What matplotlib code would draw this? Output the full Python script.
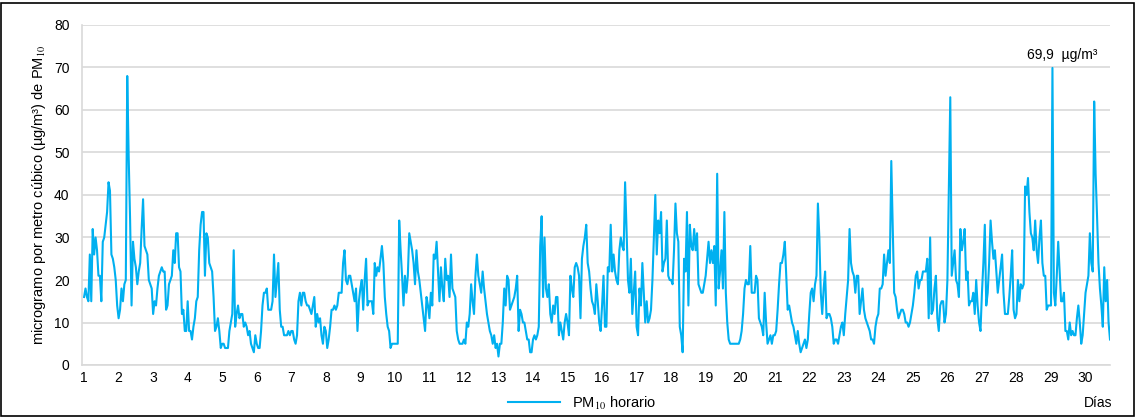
import numpy as np
import matplotlib
matplotlib.use("Agg")
import matplotlib.pyplot as plt
from matplotlib.patches import Rectangle

plt.rcParams['font.family'] = ['Liberation Sans', 'DejaVu Sans']
plt.rcParams['mathtext.fontset'] = 'stix'

# PM10 hourly concentration (ug/m3), one row per day
pm10_horario = [
    16, 18, 16, 15, 26, 15, 32, 26, 30, 27, 21, 21, 15, 29, 30, 33, 36, 43, 41, 26, 25, 23, 20, 14,
    11, 13, 18, 15, 19, 20, 68, 49, 34, 14, 29, 25, 23, 19, 22, 24, 32, 39, 28, 27, 26, 20, 19, 18,
    12, 15, 14, 18, 21, 22, 23, 22, 22, 13, 14, 19, 20, 21, 27, 24, 31, 31, 23, 22, 12, 13, 8, 8,
    15, 8, 8, 6, 9, 11, 15, 16, 27, 33, 36, 36, 21, 31, 30, 24, 23, 22, 16, 8, 9, 11, 8, 4,
    5, 5, 4, 4, 4, 8, 10, 12, 27, 9, 12, 14, 11, 12, 12, 9, 10, 9, 7, 8, 5, 4, 3, 7,
    5, 4, 4, 8, 14, 17, 17, 18, 13, 13, 13, 15, 26, 16, 20, 24, 13, 9, 9, 7, 7, 7, 8, 7,
    8, 8, 6, 5, 7, 15, 17, 14, 17, 17, 15, 14, 14, 13, 12, 14, 16, 9, 12, 10, 11, 7, 5, 9,
    8, 4, 6, 9, 13, 13, 14, 13, 14, 17, 17, 17, 24, 27, 20, 19, 21, 21, 19, 17, 15, 18, 8, 15,
    18, 20, 13, 20, 25, 14, 15, 15, 15, 12, 24, 21, 23, 22, 25, 28, 24, 16, 12, 9, 8, 4, 5, 5,
    5, 5, 5, 34, 27, 21, 14, 21, 17, 21, 31, 29, 27, 24, 19, 27, 22, 20, 17, 14, 11, 8, 16, 14,
    11, 17, 14, 26, 25, 29, 22, 15, 23, 18, 15, 25, 20, 21, 16, 26, 18, 17, 16, 8, 6, 5, 5, 5,
    6, 5, 10, 9, 12, 19, 15, 12, 21, 26, 21, 19, 17, 22, 18, 15, 12, 10, 8, 7, 5, 7, 4, 5,
    2, 5, 5, 10, 18, 14, 21, 20, 13, 14, 15, 16, 18, 21, 8, 13, 12, 10, 10, 8, 6, 6, 3, 3,
    6, 7, 6, 7, 9, 28, 35, 16, 30, 18, 16, 19, 12, 10, 14, 12, 16, 16, 7, 10, 8, 6, 10, 12,
    10, 7, 21, 18, 16, 23, 24, 23, 21, 11, 25, 28, 30, 33, 24, 22, 18, 15, 14, 12, 19, 15, 10, 8,
    14, 21, 9, 9, 23, 22, 33, 22, 26, 22, 20, 19, 27, 30, 28, 27, 43, 32, 20, 17, 25, 12, 17, 22,
    9, 7, 18, 14, 24, 17, 10, 15, 10, 11, 13, 20, 30, 40, 26, 34, 31, 36, 22, 24, 25, 34, 21, 20,
    20, 19, 27, 38, 31, 29, 9, 7, 3, 25, 22, 36, 14, 33, 28, 27, 32, 27, 31, 19, 18, 17, 17, 19,
    21, 25, 29, 24, 27, 24, 28, 14, 45, 18, 22, 27, 18, 36, 17, 10, 6, 5, 5, 5, 5, 5, 5, 5,
    6, 8, 12, 18, 20, 19, 19, 28, 17, 17, 17, 21, 20, 11, 10, 9, 7, 17, 10, 5, 6, 7, 5, 7,
    7, 8, 13, 19, 24, 24, 26, 29, 21, 13, 14, 12, 10, 9, 7, 5, 8, 5, 3, 4, 5, 6, 4, 6,
    12, 17, 18, 15, 19, 21, 38, 30, 17, 12, 18, 22, 11, 12, 12, 11, 9, 5, 6, 6, 5, 7, 9, 10,
    7, 12, 16, 20, 32, 24, 22, 21, 17, 21, 21, 12, 15, 18, 13, 11, 10, 9, 8, 6, 6, 5, 9, 11,
    12, 18, 18, 19, 26, 21, 24, 27, 24, 48, 33, 17, 16, 13, 11, 12, 13, 13, 12, 10, 10, 9, 10, 12,
    14, 17, 21, 22, 18, 20, 20, 22, 22, 22, 25, 11, 30, 12, 13, 18, 21, 11, 8, 14, 15, 15, 10, 12,
    20, 41, 63, 21, 24, 27, 20, 19, 16, 32, 27, 29, 32, 20, 22, 14, 15, 15, 17, 12, 20, 14, 10, 8,
    17, 24, 33, 14, 17, 24, 34, 29, 25, 27, 22, 17, 20, 23, 26, 17, 12, 12, 12, 16, 21, 27, 13, 11,
    12, 20, 15, 19, 18, 19, 42, 40, 44, 36, 31, 30, 27, 34, 27, 24, 30, 34, 24, 21, 21, 13, 14, 14,
    14, 69.9, 17, 14, 21, 29, 22, 15, 15, 17, 8, 8, 6, 10, 7, 8, 7, 7, 11, 14, 10, 5, 7, 12,
    17, 19, 21, 31, 24, 22, 62, 45, 35, 24, 18, 14, 9, 23, 15, 20, 10, 6,
]
dias = list(range(1, 31))
y_ticks = list(range(0, 81, 10))

valores = np.array(pm10_horario, dtype=float)
horas = 1 + np.arange(len(valores)) / 24.0

fig = plt.figure(figsize=(11.36, 4.18), dpi=100)
ax = fig.add_axes([82 / 1136, 1 - 365 / 418, (1110 - 82) / 1136, (365 - 25) / 418])

ax.plot(horas, valores, color='#00b0f0', lw=1.5, label=r'PM$_{10}$ horario')

ax.set_ylim(0, 80)
ax.set_xlim(horas[0] - 0.06, horas[-1])
ax.set_yticks(y_ticks)
ax.set_xticks(dias)
ax.set_xticklabels([str(d) for d in dias])
ax.tick_params(axis='both', length=0, labelsize=10, colors='black')
ax.tick_params(axis='y', pad=9)
ax.tick_params(axis='x', pad=4)
ax.grid(axis='y', color='#d9d9d9', lw=1.2)
ax.set_axisbelow(True)
for s in ['top', 'right']:
    ax.spines[s].set_visible(False)
ax.spines['left'].set_color('#d9d9d9')
ax.spines['bottom'].set_color('#d9d9d9')
ax.spines['left'].set_linewidth(1.2)
ax.spines['bottom'].set_linewidth(1.2)

ax.set_ylabel('microgramo por metro cúbico (µg/m³) de PM$_{10}$', fontsize=10.5, labelpad=4)

# max label
imax = int(np.argmax(valores))
ax.annotate(f"{valores[imax]:.1f}".replace('.', ',') + '  µg/m³',
            xy=(horas[imax], valores[imax]), xytext=(7, 4),
            textcoords='offset points', ha='center', va='bottom', fontsize=10)

fig.legend(loc='center', bbox_to_anchor=(582 / 1136, 1 - 403 / 418), frameon=False,
           fontsize=10.5, handlelength=3.6)
fig.text(1112 / 1136, 1 - 403 / 418, 'Días', ha='right', va='center', fontsize=10)

fig.patches.append(Rectangle((1 / 1136, 2 / 418), 1133 / 1136, 413 / 418, transform=fig.transFigure,
                             fill=False, edgecolor='black', lw=1.2))

plt.savefig('out.png', dpi=100)
